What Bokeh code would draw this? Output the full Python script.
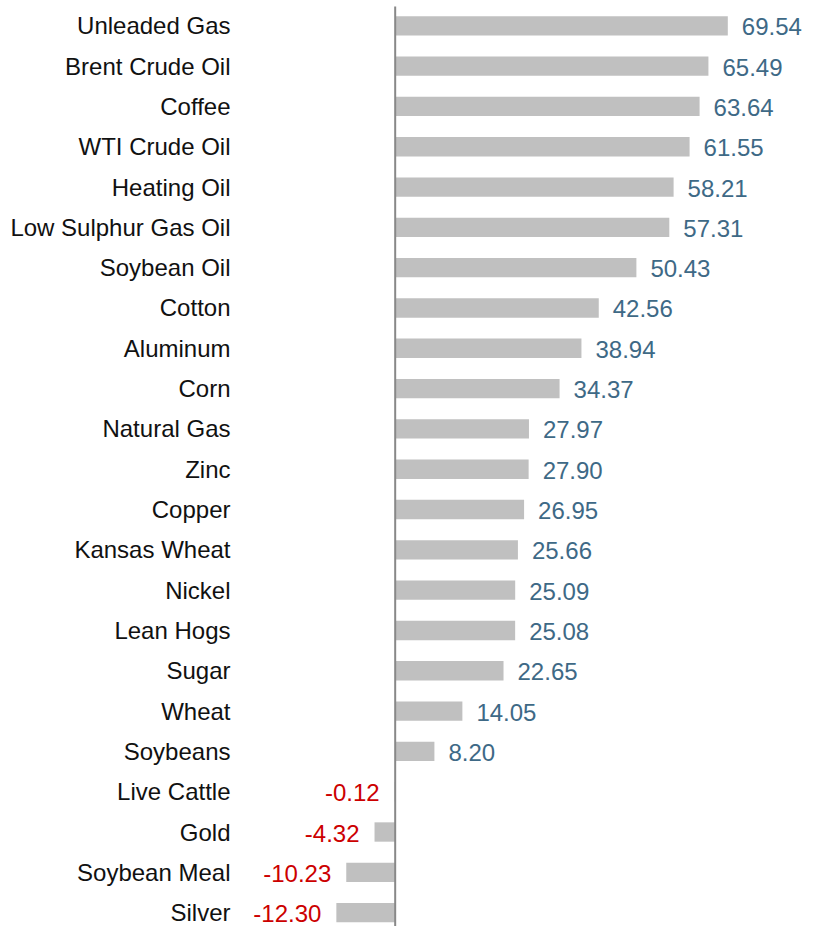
from bokeh.plotting import figure
from bokeh.models import ColumnDataSource, Range1d, FixedTicker
from bokeh.core.properties import value
from bokeh.embed import file_html
from bokeh.resources import INLINE

categories = ["Unleaded Gas", "Brent Crude Oil", "Coffee", "WTI Crude Oil", "Heating Oil",
              "Low Sulphur Gas Oil", "Soybean Oil", "Cotton", "Aluminum", "Corn",
              "Natural Gas", "Zinc", "Copper", "Kansas Wheat", "Nickel", "Lean Hogs",
              "Sugar", "Wheat", "Soybeans", "Live Cattle", "Gold", "Soybean Meal", "Silver"]
values = [69.54, 65.49, 63.64, 61.55, 58.21, 57.31, 50.43, 42.56, 38.94, 34.37,
          27.97, 27.90, 26.95, 25.66, 25.09, 25.08, 22.65, 14.05, 8.20, -0.12,
          -4.32, -10.23, -12.30]

idx = list(range(len(categories)))
pos_idx = [i for i in idx if values[i] >= 0]
neg_idx = [i for i in idx if values[i] < 0]

bars = ColumnDataSource(dict(y=idx, v=values))
pos = ColumnDataSource(dict(y=pos_idx, v=[values[i] for i in pos_idx],
                            t=["%.2f" % values[i] for i in pos_idx]))
neg = ColumnDataSource(dict(y=neg_idx, v=[values[i] for i in neg_idx],
                            t=["%.2f" % values[i] for i in neg_idx]))

p = figure(width=820, height=926, output_backend="svg", toolbar_location=None,
           x_range=Range1d(-32.34, 88.92), y_range=Range1d(22.344, -0.628),
           min_border_left=240, min_border_right=0, min_border_top=0, min_border_bottom=0)
p.outline_line_color = None
p.xgrid.visible = False
p.ygrid.visible = False
p.xaxis.visible = False

p.hbar(y="y", left=0, right="v", height=0.48, source=bars,
       fill_color="#c0c0c0", line_color=None)

# zero line
p.segment(x0=[0], y0=[-0.48], x1=[0], y1=[23], line_color="#888888", line_width=2)

p.text(x="v", y="y", text="t", source=pos, x_offset=14, y_offset=1,
       text_align="left", text_baseline="middle", text_color="#3e6986",
       text_font=value("Liberation Sans"), text_font_size="24px")
p.text(x="v", y="y", text="t", source=neg, x_offset=-15, y_offset=1,
       text_align="right", text_baseline="middle", text_color="#cc0000",
       text_font=value("Liberation Sans"), text_font_size="24px")

ax = p.yaxis[0]
ax.ticker = FixedTicker(ticks=idx)
ax.major_label_overrides = {i: c for i, c in enumerate(categories)}
ax.axis_line_color = None
ax.major_tick_line_color = None
ax.minor_tick_line_color = None
ax.major_tick_out = 0
ax.major_tick_in = 0
ax.major_label_standoff = 10
ax.major_label_text_font = "Liberation Sans"
ax.major_label_text_font_size = "24px"
ax.major_label_text_color = "#111111"

open("out.html", "w").write(file_html(p, INLINE))
